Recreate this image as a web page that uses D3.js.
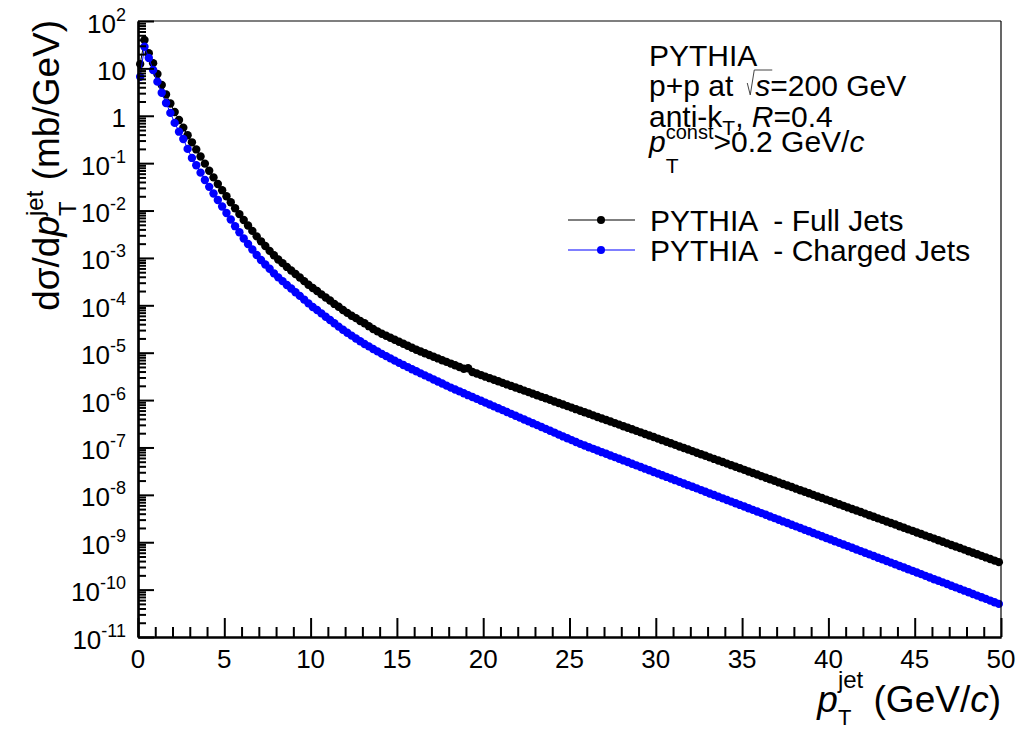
<!DOCTYPE html>
<html><head><meta charset="utf-8">
<script src="https://cdn.jsdelivr.net/npm/d3@7"></script>
<style>
body{margin:0;background:#fff}
svg{display:block}
text{font-family:"Liberation Sans",Arial,Helvetica,sans-serif;fill:#000}
</style>
</head><body>
<svg id="chart" width="1017" height="730"></svg>
<script>
// ---------------- data ----------------
const nBins = 200;
const ptCenters = d3.range(nBins).map(i => 0.125 + 0.25 * i); // bin centres, GeV/c

const fullJets = [
12.3, 39.8, 20.9, 12.9, 7.59, 4.47, 2.82, 1.82, 1.20, 0.813,
0.562, 0.389, 0.275, 0.195, 0.138, 0.0977, 0.0692, 0.0501, 0.0363, 0.0269,
0.0200, 0.0150, 0.0112, 8.41e-3, 6.31e-3, 4.84e-3, 3.72e-3, 2.85e-3, 2.24e-3, 1.78e-3,
1.41e-3, 1.135e-3, 9.23e-4, 7.76e-4, 6.46e-4, 5.43e-4, 4.57e-4, 3.85e-4, 3.24e-4, 2.72e-4,
2.32e-4, 2.00e-4, 1.70e-4, 1.46e-4, 1.26e-4, 1.07e-4, 9.33e-5, 7.94e-5, 6.92e-5, 6.03e-5,
5.37e-5, 4.68e-5, 4.17e-5, 3.63e-5, 3.16e-5, 2.82e-5, 2.51e-5, 2.28e-5, 2.065e-5, 1.87e-5,
1.70e-5, 1.54e-5, 1.40e-5, 1.27e-5, 1.15e-5, 1.057e-5, 9.72e-6, 8.94e-6, 8.22e-6, 7.57e-6,
6.95e-6, 6.40e-6, 5.89e-6, 5.42e-6, 4.98e-6, 4.58e-6, 4.68e-6, 3.91e-6, 3.63e-6, 3.37e-6,
3.12e-6, 2.90e-6, 2.69e-6, 2.49e-6, 2.31e-6, 2.14e-6, 1.99e-6, 1.84e-6, 1.71e-6, 1.585e-6,
1.47e-6, 1.365e-6, 1.265e-6, 1.17e-6, 1.09e-6, 1.01e-6, 9.36e-7, 8.69e-7, 8.05e-7, 7.46e-7,
6.93e-7, 6.43e-7, 5.96e-7, 5.52e-7, 5.13e-7, 4.75e-7, 4.41e-7, 4.09e-7, 3.79e-7, 3.52e-7,
3.27e-7, 3.03e-7, 2.81e-7, 2.61e-7, 2.42e-7, 2.24e-7, 2.08e-7, 1.93e-7, 1.79e-7, 1.66e-7,
1.54e-7, 1.426e-7, 1.32e-7, 1.225e-7, 1.135e-7, 1.05e-7, 9.75e-8, 9.03e-8, 8.38e-8, 7.76e-8,
7.19e-8, 6.67e-8, 6.18e-8, 5.73e-8, 5.31e-8, 4.92e-8, 4.56e-8, 4.23e-8, 3.92e-8, 3.63e-8,
3.37e-8, 3.12e-8, 2.89e-8, 2.68e-8, 2.48e-8, 2.30e-8, 2.13e-8, 1.98e-8, 1.83e-8, 1.70e-8,
1.57e-8, 1.46e-8, 1.35e-8, 1.25e-8, 1.16e-8, 1.08e-8, 9.98e-9, 9.25e-9, 8.57e-9, 7.94e-9,
7.36e-9, 6.82e-9, 6.32e-9, 5.86e-9, 5.43e-9, 5.04e-9, 4.67e-9, 4.33e-9, 4.01e-9, 3.72e-9,
3.44e-9, 3.19e-9, 2.96e-9, 2.74e-9, 2.54e-9, 2.36e-9, 2.18e-9, 2.02e-9, 1.87e-9, 1.74e-9,
1.61e-9, 1.49e-9, 1.38e-9, 1.28e-9, 1.19e-9, 1.10e-9, 1.02e-9, 9.46e-10, 8.77e-10, 8.13e-10,
7.53e-10, 6.98e-10, 6.47e-10, 6.00e-10, 5.56e-10, 5.15e-10, 4.78e-10, 4.43e-10, 4.10e-10, 3.80e-10
];

const chargedJets = [
6.68, 28.7, 16.6, 9.25, 5.25, 3.07, 1.86, 1.15, 0.708, 0.462,
0.324, 0.200, 0.129, 0.0902, 0.0631, 0.0442, 0.0316, 0.0229, 0.0167, 0.0122,
8.85e-3, 6.46e-3, 4.68e-3, 3.47e-3, 2.57e-3, 1.97e-3, 1.51e-3, 1.15e-3, 9.02e-4, 7.24e-4,
5.89e-4, 4.73e-4, 3.89e-4, 3.24e-4, 2.69e-4, 2.26e-4, 1.88e-4, 1.58e-4, 1.32e-4, 1.10e-4,
9.23e-5, 7.94e-5, 6.76e-5, 5.75e-5, 4.90e-5, 4.17e-5, 3.55e-5, 3.05e-5, 2.63e-5, 2.29e-5,
2.00e-5, 1.74e-5, 1.53e-5, 1.36e-5, 1.20e-5, 1.065e-5, 9.44e-6, 8.46e-6, 7.59e-6, 6.80e-6,
6.10e-6, 5.50e-6, 4.97e-6, 4.48e-6, 4.05e-6, 3.66e-6, 3.32e-6, 3.01e-6, 2.72e-6, 2.47e-6,
2.23e-6, 2.02e-6, 1.83e-6, 1.67e-6, 1.53e-6, 1.39e-6, 1.27e-6, 1.16e-6, 1.06e-6, 9.68e-7,
8.83e-7, 8.07e-7, 7.36e-7, 6.71e-7, 6.14e-7, 5.60e-7, 5.12e-7, 4.67e-7, 4.26e-7, 3.89e-7,
3.55e-7, 3.24e-7, 2.96e-7, 2.70e-7, 2.47e-7, 2.25e-7, 2.06e-7, 1.87e-7, 1.71e-7, 1.56e-7,
1.43e-7, 1.30e-7, 1.19e-7, 1.097e-7, 1.012e-7, 9.35e-8, 8.63e-8, 7.96e-8, 7.35e-8, 6.78e-8,
6.26e-8, 5.78e-8, 5.33e-8, 4.92e-8, 4.54e-8, 4.19e-8, 3.87e-8, 3.57e-8, 3.30e-8, 3.04e-8,
2.81e-8, 2.59e-8, 2.39e-8, 2.21e-8, 2.04e-8, 1.88e-8, 1.74e-8, 1.60e-8, 1.48e-8, 1.37e-8,
1.26e-8, 1.16e-8, 1.07e-8, 9.91e-9, 9.15e-9, 8.44e-9, 7.79e-9, 7.19e-9, 6.64e-9, 6.13e-9,
5.66e-9, 5.22e-9, 4.82e-9, 4.45e-9, 4.11e-9, 3.79e-9, 3.50e-9, 3.23e-9, 2.98e-9, 2.75e-9,
2.54e-9, 2.34e-9, 2.16e-9, 2.00e-9, 1.84e-9, 1.70e-9, 1.57e-9, 1.45e-9, 1.34e-9, 1.23e-9,
1.14e-9, 1.05e-9, 9.70e-10, 8.96e-10, 8.27e-10, 7.63e-10, 7.04e-10, 6.50e-10, 6.00e-10, 5.54e-10,
5.11e-10, 4.72e-10, 4.36e-10, 4.02e-10, 3.71e-10, 3.42e-10, 3.16e-10, 2.92e-10, 2.69e-10, 2.49e-10,
2.29e-10, 2.12e-10, 1.95e-10, 1.80e-10, 1.66e-10, 1.54e-10, 1.42e-10, 1.31e-10, 1.21e-10, 1.115e-10,
1.03e-10, 9.50e-11, 8.77e-11, 8.09e-11, 7.47e-11, 6.90e-11, 6.37e-11, 5.87e-11, 5.42e-11, 5.00e-11
];

const seriesNames = ["PYTHIA  - Full Jets", "PYTHIA  - Charged Jets"];
const seriesColors = ["#000000", "#0000ff"];
const xTickValues = [0, 5, 10, 15, 20, 25, 30, 35, 40, 45, 50];
const yTickExponents = [2, 1, 0, -1, -2, -3, -4, -5, -6, -7, -8, -9, -10, -11];

// ---------------- layout ----------------
const W = 1017, H = 730;
const L = 138, R = 1001, T = 21, B = 637;
const svg = d3.select("#chart");
svg.append("rect").attr("width", W).attr("height", H).attr("fill", "#fff");

const x = d3.scaleLinear().domain([0, 50]).range([L, R]);
const y = d3.scaleLog().domain([1e-11, 1e2]).range([B, T]);

// rich text helper (sub/superscripts)
function rich(parent, parts) {
  const g = parent.append("g");
  let cx = 0, lastStart = 0, lastEnd = 0;
  const pos = [];
  parts.forEach(p => {
    if (p.gap) { cx += p.gap; lastEnd = cx; pos.push({x0: cx, x1: cx}); return; }
    const sx = p.stack ? lastStart : cx;
    const t = g.append("text").attr("x", sx).attr("y", p.dy || 0)
      .attr("font-size", p.size).style("white-space", "pre").text(p.t);
    if (p.it) t.attr("font-style", "italic");
    const w = t.node().getComputedTextLength();
    if (p.stack) { cx = Math.max(lastEnd, sx + w); lastEnd = cx; }
    else { lastStart = sx; lastEnd = sx + w; cx = lastEnd; }
    pos.push({x0: sx, x1: sx + w});
  });
  return {g, width: cx, pos};
}

// ---------------- data marks ----------------
const series = [fullJets, chargedJets];
const line = d3.line().x((d, i) => x(ptCenters[i])).y(d => y(d));
series.forEach((vals, si) => {
  svg.append("path").datum(vals).attr("d", line)
    .attr("fill", "none").attr("stroke", seriesColors[si]).attr("stroke-width", 1);
  svg.append("g").selectAll("circle").data(vals).join("circle")
    .attr("cx", (d, i) => x(ptCenters[i])).attr("cy", d => y(d))
    .attr("r", 4.2).attr("fill", seriesColors[si]);
});

// ---------------- axes ----------------
const xMinor = d3.range(0, 51).filter(v => v % 5 !== 0);
const xAxisMinor = d3.axisBottom(x).tickValues(xMinor).tickSize(-10).tickSizeOuter(0).tickFormat("");
const xAxisMajor = d3.axisBottom(x).tickValues(xTickValues).tickSize(-19).tickSizeOuter(0).tickFormat("");
const gxm = svg.append("g").attr("transform", `translate(0,${B})`).call(xAxisMinor);
const gx = svg.append("g").attr("transform", `translate(0,${B})`).call(xAxisMajor);

const yMajor = yTickExponents.map(e => Math.pow(10, e));
const yMinor = [];
for (let e = -11; e < 2; e++) for (let m = 2; m <= 9; m++) yMinor.push(m * Math.pow(10, e));
const yAxisMinor = d3.axisLeft(y).tickValues(yMinor).tickSize(-8).tickSizeOuter(0).tickFormat("");
const yAxisMajor = d3.axisLeft(y).tickValues(yMajor).tickSize(-16).tickSizeOuter(0).tickFormat("");
const gym = svg.append("g").attr("transform", `translate(${L},0)`).call(yAxisMinor);
const gy = svg.append("g").attr("transform", `translate(${L},0)`).call(yAxisMajor);

[gxm, gx, gym, gy].forEach(g => {
  g.selectAll(".tick line").attr("stroke", "#000").attr("stroke-width", 2);
  g.select(".domain").attr("stroke", "#000").attr("stroke-width", 2.2);
});

// frame top and right
svg.append("line").attr("x1", L).attr("x2", R).attr("y1", T).attr("y2", T).attr("stroke", "#000").attr("stroke-width", 1.2);
svg.append("line").attr("x1", R).attr("x2", R).attr("y1", T).attr("y2", B).attr("stroke", "#000").attr("stroke-width", 1.2);

// x tick labels
xTickValues.forEach(v => {
  svg.append("text").attr("x", x(v)).attr("y", B + 31).attr("text-anchor", "middle")
    .attr("font-size", 26).text(v);
});

// y tick labels
yTickExponents.forEach(e => {
  let parts;
  if (e === 0) parts = [{t: "1", size: 26}];
  else if (e === 1) parts = [{t: "10", size: 26}];
  else parts = [{t: "10", size: 26}, {t: String(e), size: 18, dy: -12}];
  const r = rich(svg, parts);
  r.g.attr("transform", `translate(${126 - r.width},${y(Math.pow(10, e)) + 11.5})`);
});

// ---------------- titles ----------------
// x title
{
  const r = rich(svg, [
    {t: "p", size: 37, it: true},
    {t: "T", size: 22, dy: 13},
    {t: "jet", size: 24, dy: -24, stack: true},
    {t: " (GeV/", size: 37},
    {t: "c", size: 37, it: true},
    {t: ")", size: 37}
  ]);
  r.g.attr("transform", `translate(${R - r.width},712)`);
}
// y title
{
  const r = rich(svg, [
    {t: "dσ/d", size: 37},
    {t: "p", size: 37, it: true},
    {t: "T", size: 24, dy: 17},
    {t: "jet", size: 24, dy: -16, stack: true},
    {t: " (mb/GeV)", size: 37}
  ]);
  r.g.attr("transform", `translate(59,${T + r.width - 1}) rotate(-90)`);
}

// ---------------- info text ----------------
const tx = 649;
rich(svg, [{t: "PYTHIA", size: 30}]).g.attr("transform", `translate(${tx},66)`);
{
  const r = rich(svg, [
    {t: "p+p at", size: 30},
    {gap: 22},
    {t: "s", size: 30, it: true},
    {t: "=200 GeV", size: 30}
  ]);
  r.g.attr("transform", `translate(${tx},96)`);
  const sx0 = r.pos[2].x0, sx1 = r.pos[2].x1;
  r.g.append("path")
    .attr("d", `M${sx0 - 8},-13 L${sx0 - 5},-1 L${sx0 - 1},-26 H${sx1 + 2}`)
    .attr("fill", "none").attr("stroke", "#444").attr("stroke-width", 1);
}
rich(svg, [
  {t: "anti-k", size: 30},
  {t: "T", size: 21, dy: 8},
  {t: ", ", size: 30},
  {t: "R", size: 30, it: true},
  {t: "=0.4", size: 30}
]).g.attr("transform", `translate(${tx},127)`);
rich(svg, [
  {t: "p", size: 30, it: true},
  {t: "T", size: 21, dy: 21},
  {t: "const", size: 20, dy: -13, stack: true},
  {t: ">0.2 GeV/", size: 30},
  {t: "c", size: 30, it: true}
]).g.attr("transform", `translate(${tx},152)`);

// ---------------- legend ----------------
const legY = [220, 250];
seriesNames.forEach((name, i) => {
  svg.append("line").attr("x1", 568).attr("x2", 635).attr("y1", legY[i]).attr("y2", legY[i])
    .attr("stroke", seriesColors[i]).attr("stroke-width", 1.2);
  svg.append("circle").attr("cx", 601).attr("cy", legY[i]).attr("r", 4).attr("fill", seriesColors[i]);
  svg.append("text").attr("x", 650).attr("y", legY[i] + 10.5).attr("font-size", 30)
    .style("white-space", "pre").text(name);
});
</script>
</body></html>
